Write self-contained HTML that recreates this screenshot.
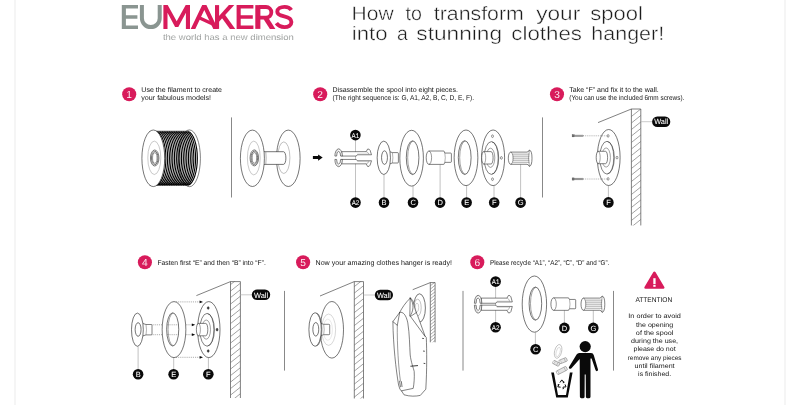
<!DOCTYPE html>
<html><head><meta charset="utf-8"><title>EUMAKERS - How to transform your spool into a stunning clothes hanger</title>
<style>
html,body{margin:0;padding:0;background:#fff;}
body{width:800px;height:405px;overflow:hidden;font-family:"Liberation Sans",sans-serif;}
svg{display:block;will-change:transform;}
text{font-family:"Liberation Sans",sans-serif;text-rendering:geometricPrecision;}
.t{}
.lb{stroke:#fff;stroke-width:0.22px;}
.lb2{stroke:#fff;stroke-width:0.05px;}
.logo{stroke-width:0.5px;}
.title{stroke:#fff;stroke-width:0.42px;}
.thin1{stroke:#fff;stroke-width:0.25px;}
.thin2{stroke:#d81b5b;stroke-width:0.08px;}
</style></head><body>
<svg width="800" height="405" viewBox="0 0 800 405">
<rect width="800" height="405" fill="#fff"/>
<line x1="15" y1="0" x2="15" y2="405" stroke="#f3f3f3" stroke-width="1.6"/>
<line x1="785" y1="0" x2="785" y2="405" stroke="#f3f3f3" stroke-width="1.6"/>
<path d="M121.8 5.1 H138.0 V8.5 H125.89999999999999 V15.3 H137.4 V18.7 H125.89999999999999 V25.5 H138.0 V28.9 H121.8 Z" fill="#8a9591"/>
<path d="M141.9 5.1 V18.2 A8.9 8.9 0 0 0 159.7 18.2 V5.1" fill="none" stroke="#8a9591" stroke-width="4.0"/>
<path d="M163.4 28.9 V5.1 H167.7 L176.7 21.3 L185.7 5.1 H190 V28.9 H185.9 V12.8 L178.3 26.9 H175.1 L167.5 12.8 V28.9 Z" fill="#d81b5b"/>
<path d="M190.7 28.9 L202.2 5.1 H206.4 L217.9 28.9 H213.3 L204.3 10 L195.3 28.9 Z" fill="#d81b5b"/>
<path d="M199.9 16.2 L213.4 22.5 L212 25.5 L198.5 19.2 Z" fill="#d81b5b"/>
<path d="M215 5.1 H219.1 V28.9 H215 Z" fill="#d81b5b"/>
<path d="M219 15.9 L228.9 5.1 H234.3 L219 21.8 Z" fill="#d81b5b"/>
<path d="M221 16.8 L224.1 13.6 L235.3 28.9 H229.9 Z" fill="#d81b5b"/>
<path d="M236.6 5.1 H253.4 V8.5 H240.7 V15.3 H252.8 V18.7 H240.7 V25.5 H253.4 V28.9 H236.6 Z" fill="#d81b5b"/>
<path d="M255.3 5.1 H260.4 V28.9 H255.3 Z" fill="#d81b5b"/>
<path d="M259 7.0 H266 A5.35 5.35 0 0 1 266 17.7 H259" fill="none" stroke="#d81b5b" stroke-width="3.8"/>
<path d="M263.6 19.2 L268.6 18.2 L275.4 28.9 H269.9 Z" fill="#d81b5b"/>
<path d="M291.3 10.0 C289.8 7.8 287.5 6.9 284.6 6.9 C280.4 6.9 277.3 8.8 277.3 11.7 C277.3 14.7 280.3 15.5 284.2 16.3 C288.4 17.2 291.4 18.5 291.4 22 C291.4 25.3 288.4 27.1 284.4 27.1 C281 27.1 278.2 25.8 276.4 23.2" fill="none" stroke="#d81b5b" stroke-width="3.9"/>
<text x="162.9" y="39.7" font-size="8.4" fill="#5f6462" text-anchor="start" class="thin1" textLength="130.9" lengthAdjust="spacingAndGlyphs">the world has a new dimension</text>
<text x="351.6" y="19.6" font-size="19.4" fill="#1c1c1c" text-anchor="start" class="title" textLength="42.0" lengthAdjust="spacingAndGlyphs">How</text>
<text x="405.6" y="19.6" font-size="19.4" fill="#1c1c1c" text-anchor="start" class="title" textLength="16.4" lengthAdjust="spacingAndGlyphs">to</text>
<text x="433.8" y="19.6" font-size="19.4" fill="#1c1c1c" text-anchor="start" class="title" textLength="90.0" lengthAdjust="spacingAndGlyphs">transform</text>
<text x="536.2" y="19.6" font-size="19.4" fill="#1c1c1c" text-anchor="start" class="title" textLength="44.0" lengthAdjust="spacingAndGlyphs">your</text>
<text x="590.2" y="19.6" font-size="19.4" fill="#1c1c1c" text-anchor="start" class="title" textLength="52.6" lengthAdjust="spacingAndGlyphs">spool</text>
<text x="351.8" y="40.3" font-size="19.4" fill="#1c1c1c" text-anchor="start" class="title" textLength="35.7" lengthAdjust="spacingAndGlyphs">into</text>
<text x="396.9" y="40.3" font-size="19.4" fill="#1c1c1c" text-anchor="start" class="title" textLength="10.8" lengthAdjust="spacingAndGlyphs">a</text>
<text x="416.3" y="40.3" font-size="19.4" fill="#1c1c1c" text-anchor="start" class="title" textLength="85.7" lengthAdjust="spacingAndGlyphs">stunning</text>
<text x="511.3" y="40.3" font-size="19.4" fill="#1c1c1c" text-anchor="start" class="title" textLength="70.7" lengthAdjust="spacingAndGlyphs">clothes</text>
<text x="591.3" y="40.3" font-size="19.4" fill="#1c1c1c" text-anchor="start" class="title" textLength="72.9" lengthAdjust="spacingAndGlyphs">hanger!</text>
<circle cx="129.2" cy="94.3" r="7.05" fill="#d81b5b"/>
<text x="129.2" y="98.05" font-size="10.2" fill="#fff" text-anchor="middle" class="thin2">1</text>
<text x="141.3" y="92" font-size="7.0" fill="#141414" text-anchor="start" class="t" textLength="80.7" lengthAdjust="spacingAndGlyphs">Use the filament to create</text>
<text x="141.3" y="100.2" font-size="7.0" fill="#141414" text-anchor="start" class="t" textLength="69.7" lengthAdjust="spacingAndGlyphs">your fabulous models!</text>
<ellipse cx="189.4" cy="158.3" rx="11.0" ry="28.4" fill="#fff" stroke="#1a1a1a" stroke-width="0.55"/>
<g fill="none" stroke="#000" stroke-width="1.12">
<path d="M149.80 131.50 A10.4 27.0 0 0 1 149.80 185.10"/>
<path d="M151.55 131.50 A10.4 27.0 0 0 1 151.55 185.10"/>
<path d="M153.29 131.50 A10.4 27.0 0 0 1 153.29 185.10"/>
<path d="M155.04 131.50 A10.4 27.0 0 0 1 155.04 185.10"/>
<path d="M156.78 131.50 A10.4 27.0 0 0 1 156.78 185.10"/>
<path d="M158.53 131.50 A10.4 27.0 0 0 1 158.53 185.10"/>
<path d="M160.27 131.50 A10.4 27.0 0 0 1 160.27 185.10"/>
<path d="M162.02 131.50 A10.4 27.0 0 0 1 162.02 185.10"/>
<path d="M163.76 131.50 A10.4 27.0 0 0 1 163.76 185.10"/>
<path d="M165.51 131.50 A10.4 27.0 0 0 1 165.51 185.10"/>
<path d="M167.25 131.50 A10.4 27.0 0 0 1 167.25 185.10"/>
<path d="M169.00 131.50 A10.4 27.0 0 0 1 169.00 185.10"/>
<path d="M170.75 131.50 A10.4 27.0 0 0 1 170.75 185.10"/>
<path d="M172.49 131.50 A10.4 27.0 0 0 1 172.49 185.10"/>
<path d="M174.24 131.50 A10.4 27.0 0 0 1 174.24 185.10"/>
<path d="M175.98 131.50 A10.4 27.0 0 0 1 175.98 185.10"/>
<path d="M177.73 131.50 A10.4 27.0 0 0 1 177.73 185.10"/>
<path d="M179.47 131.50 A10.4 27.0 0 0 1 179.47 185.10"/>
<path d="M181.22 131.50 A10.4 27.0 0 0 1 181.22 185.10"/>
<path d="M182.96 131.50 A10.4 27.0 0 0 1 182.96 185.10"/>
<path d="M184.71 131.50 A10.4 27.0 0 0 1 184.71 185.10"/>
<path d="M186.45 131.50 A10.4 27.0 0 0 1 186.45 185.10"/>
<path d="M188.20 131.50 A10.4 27.0 0 0 1 188.20 185.10"/>
</g>
<path d="M155.5 131.20000000000002 L188.6 131.20000000000002 M155.5 185.4 L188.6 185.4" stroke="#222" stroke-width="0.6" fill="none"/>
<ellipse cx="153.3" cy="158.3" rx="11.4" ry="28.3" fill="#fff" stroke="#1a1a1a" stroke-width="0.6"/>
<ellipse cx="154.3" cy="157.8" rx="6.5" ry="16.7" fill="none" stroke="#888" stroke-width="0.45"/>
<ellipse cx="154.7" cy="158.0" rx="4.25" ry="8.0" fill="none" stroke="#222" stroke-width="0.6"/>
<ellipse cx="154.75" cy="158.0" rx="3.3" ry="6.7" fill="none" stroke="#666" stroke-width="0.9"/>
<ellipse cx="154.79999999999998" cy="158.0" rx="2.25" ry="5.3" fill="none" stroke="#222" stroke-width="0.5"/>
<line x1="231.5" y1="117.4" x2="231.5" y2="197.5" stroke="#7a7a7a" stroke-width="0.9"/>
<ellipse cx="288.3" cy="158.3" rx="11.8" ry="28.2" fill="#fff" stroke="#1a1a1a" stroke-width="0.6"/>
<ellipse cx="283.8" cy="157.7" rx="6.1" ry="15.8" fill="none" stroke="#777" stroke-width="0.45"/>
<path d="M262 151.7 L283.5 151.7 A2.4 6.35 0 0 1 283.5 164.4 L262 164.4 Z" fill="#fff" stroke="#1a1a1a" stroke-width="0.6"/>
<ellipse cx="252.4" cy="158.3" rx="12" ry="28.2" fill="#fff" stroke="#1a1a1a" stroke-width="0.6"/>
<ellipse cx="253.8" cy="158" rx="6.4" ry="16.9" fill="none" stroke="#888" stroke-width="0.45"/>
<ellipse cx="254.3" cy="157.9" rx="4.25" ry="8.0" fill="none" stroke="#222" stroke-width="0.6"/>
<ellipse cx="254.35000000000002" cy="157.9" rx="3.3" ry="6.7" fill="none" stroke="#666" stroke-width="0.9"/>
<ellipse cx="254.4" cy="157.9" rx="2.25" ry="5.3" fill="none" stroke="#222" stroke-width="0.5"/>
<path d="M265.8 152.0 Q266.5 158 265.8 164.1" fill="none" stroke="#555" stroke-width="0.45"/>
<path d="M312.9 156.0 L318.1 156.0 L318.1 154.4 L322.7 157.5 L318.1 160.7 L318.1 159.0 L312.9 159.0 Z" fill="#0a0a0a"/>
<circle cx="320.2" cy="94.3" r="7.05" fill="#d81b5b"/>
<text x="320.2" y="98.05" font-size="10.2" fill="#fff" text-anchor="middle" class="thin2">2</text>
<text x="332.5" y="92" font-size="7.0" fill="#141414" text-anchor="start" class="t" textLength="125.5" lengthAdjust="spacingAndGlyphs">Disassemble the spool into eight pieces.</text>
<text x="332.5" y="100.2" font-size="7.0" fill="#141414" text-anchor="start" class="t" textLength="141.6" lengthAdjust="spacingAndGlyphs">(The right sequence is: G, A1, A2, B, C, D, E, F).</text>
<line x1="355.5" y1="139.5" x2="355.5" y2="198" stroke="#999" stroke-width="0.6"/>
<line x1="384.0" y1="174.5" x2="384.0" y2="198" stroke="#a8a8a8" stroke-width="0.7"/>
<line x1="413.0" y1="186" x2="413.0" y2="198" stroke="#a8a8a8" stroke-width="0.7"/>
<line x1="440.1" y1="164.6" x2="440.1" y2="198" stroke="#a8a8a8" stroke-width="0.7"/>
<line x1="466.6" y1="185.8" x2="466.6" y2="198" stroke="#a8a8a8" stroke-width="0.7"/>
<line x1="494.0" y1="185.8" x2="494.0" y2="198" stroke="#a8a8a8" stroke-width="0.7"/>
<line x1="520.6" y1="164.4" x2="520.6" y2="198" stroke="#a8a8a8" stroke-width="0.7"/>
<path d="M341.7 151.65 L366.2 151.65 L367.59999999999997 149.05 Q369.29999999999995 148.65 370.09999999999997 150.35 L371.49999999999994 154.75 L357.29999999999995 154.75 L356.29999999999995 156.05 L341.7 156.05 Z" fill="#fff" stroke="#1a1a1a" stroke-width="0.55" stroke-linejoin="round"/>
<path d="M366.2 151.65 Q368.4 152.15 368.99999999999994 154.45" fill="none" stroke="#666" stroke-width="0.45"/>
<path d="M357.29999999999995 153.95 L369.4 153.95" fill="none" stroke="#999" stroke-width="0.4"/>
<path d="M334.9 156.05 A3.7 7.2 0 0 1 342.29999999999995 156.05 L340.59999999999997 156.05 A2.0 4.6 0 0 0 336.59999999999997 156.05 Z" fill="#fff" stroke="#1a1a1a" stroke-width="0.55" stroke-linejoin="round"/>
<path d="M335.9 155.65 A3.0 5.8999999999999995 0 0 1 338.9 149.75" fill="none" stroke="#aaa" stroke-width="0.4"/>
<path d="M341.7 163.85 L366.2 163.85 L367.59999999999997 166.45 Q369.29999999999995 166.85 370.09999999999997 165.15 L371.49999999999994 160.75 L357.29999999999995 160.75 L356.29999999999995 159.45 L341.7 159.45 Z" fill="#fff" stroke="#1a1a1a" stroke-width="0.55" stroke-linejoin="round"/>
<path d="M366.2 163.85 Q368.4 163.35 368.99999999999994 161.05" fill="none" stroke="#666" stroke-width="0.45"/>
<path d="M357.29999999999995 161.55 L369.4 161.55" fill="none" stroke="#999" stroke-width="0.4"/>
<path d="M334.9 159.45 A3.7 7.2 0 0 0 342.29999999999995 159.45 L340.59999999999997 159.45 A2.0 4.6 0 0 1 336.59999999999997 159.45 Z" fill="#fff" stroke="#1a1a1a" stroke-width="0.55" stroke-linejoin="round"/>
<path d="M335.9 159.85 A3.0 5.8999999999999995 0 0 0 338.9 165.75" fill="none" stroke="#aaa" stroke-width="0.4"/>
<path d="M386.8 150.8 Q391.2 152.20000000000002 392.40000000000003 152.60000000000002 L397.6 152.60000000000002 Q398.40000000000003 152.60000000000002 398.40000000000003 153.60000000000002 L398.40000000000003 162.0 Q398.40000000000003 163.0 397.6 163.0 L392.40000000000003 163.0 Q391.2 163.4 386.8 164.8 Z" fill="#fff" stroke="#1a1a1a" stroke-width="0.55"/>
<path d="M392.40000000000003 152.60000000000002 Q393.40000000000003 157.8 392.40000000000003 163.0" fill="none" stroke="#555" stroke-width="0.45"/>
<ellipse cx="383.8" cy="157.8" rx="6.65" ry="16.7" fill="#fff" stroke="#1a1a1a" stroke-width="0.6"/>
<ellipse cx="384.5" cy="157.60000000000002" rx="2.95" ry="6.8" fill="none" stroke="#1a1a1a" stroke-width="0.6"/>
<ellipse cx="411.6" cy="158.2" rx="11.8" ry="27.9" fill="#fff" stroke="#1a1a1a" stroke-width="0.6"/>
<ellipse cx="412.6" cy="157.7" rx="6.3" ry="16.9" fill="none" stroke="#1a1a1a" stroke-width="0.6"/>
<path d="M413.20000000000005 141.1 A5.3999999999999995 16.299999999999997 0 0 0 413.20000000000005 174.29999999999998" fill="none" stroke="#444" stroke-width="0.5"/>
<path d="M428.9 151.0 L443.4 151.0 Q444.4 151.0 444.4 152.0 L444.79999999999995 153.04999999999998 L450.59999999999997 153.04999999999998 Q451.4 153.04999999999998 451.4 153.85 L451.4 161.54999999999998 Q451.4 162.35 450.59999999999997 162.35 L444.79999999999995 162.35 L444.4 163.39999999999998 Q444.4 164.39999999999998 443.4 164.39999999999998 L428.9 164.39999999999998 A2.7 6.7 0 0 1 428.9 151.0 Z" fill="#fff" stroke="#1a1a1a" stroke-width="0.55"/>
<path d="M428.9 151.0 A2.7 6.7 0 0 1 428.9 164.39999999999998" fill="none" stroke="#333" stroke-width="0.5"/>
<path d="M444.79999999999995 153.04999999999998 Q445.79999999999995 157.7 444.79999999999995 162.35" fill="none" stroke="#555" stroke-width="0.45"/>
<ellipse cx="466.0" cy="157.8" rx="11.85" ry="27.8" fill="#fff" stroke="#1a1a1a" stroke-width="0.6"/>
<ellipse cx="464.7" cy="157.60000000000002" rx="6.4" ry="16.9" fill="none" stroke="#1a1a1a" stroke-width="0.6"/>
<path d="M465.3 141.00000000000003 A5.5 16.299999999999997 0 0 0 465.3 174.20000000000002" fill="none" stroke="#444" stroke-width="0.5"/>
<ellipse cx="493.1" cy="157.8" rx="11.5" ry="27.8" fill="#fff" stroke="#1a1a1a" stroke-width="0.6"/>
<ellipse cx="491.40000000000003" cy="158.0" rx="7.3" ry="16.4" fill="none" stroke="#1a1a1a" stroke-width="0.55"/>
<path d="M491.90000000000003 141.9 A6.2 16.0 0 0 1 491.90000000000003 174.1" fill="none" stroke="#333" stroke-width="0.5"/>
<ellipse cx="490.5" cy="157.8" rx="4.3" ry="9.6" fill="none" stroke="#444" stroke-width="0.5"/>
<ellipse cx="492.5" cy="136.20000000000002" rx="0.95" ry="1.35" fill="none" stroke="#1a1a1a" stroke-width="0.45"/>
<ellipse cx="501.40000000000003" cy="157.9" rx="0.95" ry="1.35" fill="none" stroke="#1a1a1a" stroke-width="0.45"/>
<ellipse cx="492.5" cy="179.20000000000002" rx="0.95" ry="1.35" fill="none" stroke="#1a1a1a" stroke-width="0.45"/>
<path d="M491.1 151.60000000000002 L483.70000000000005 151.60000000000002 A2 6.2 0 0 0 483.70000000000005 164.0 L491.1 164.0 A2.0 6.2 0 0 0 491.1 151.60000000000002 Z" fill="#fff" stroke="#1a1a1a" stroke-width="0.55"/>
<path d="M483.70000000000005 151.60000000000002 A2 6.2 0 0 1 483.70000000000005 164.0" fill="none" stroke="#333" stroke-width="0.45"/>
<path d="M510.7 152.1 L527.0 152.1 Q528.6 151.9 529.4 150.0 Q532.0 150.7 532.0 158.2 Q532.0 165.7 529.4 166.39999999999998 Q528.6 164.49999999999997 527.0 164.29999999999998 L510.7 164.29999999999998 A2.4 6.1 0 0 1 510.7 152.1 Z" fill="#fff" stroke="#1a1a1a" stroke-width="0.55"/>
<path d="M510.7 152.1 A2.4 6.1 0 0 1 510.7 164.29999999999998" fill="none" stroke="#333" stroke-width="0.5"/>
<line x1="512.9" y1="154.13" x2="529.4" y2="154.13" stroke="#444" stroke-width="0.45"/>
<line x1="512.9" y1="156.17" x2="529.4" y2="156.17" stroke="#444" stroke-width="0.45"/>
<line x1="512.9" y1="158.20" x2="529.4" y2="158.20" stroke="#444" stroke-width="0.45"/>
<line x1="512.9" y1="160.23" x2="529.4" y2="160.23" stroke="#444" stroke-width="0.45"/>
<line x1="512.9" y1="162.27" x2="529.4" y2="162.27" stroke="#444" stroke-width="0.45"/>
<path d="M529.4 150.0 Q527.6 158.2 529.4 166.39999999999998" fill="none" stroke="#444" stroke-width="0.45"/>
<circle cx="355.4" cy="135.1" r="5.3" fill="#0a0a0a"/>
<text x="355.4" y="137.5" font-size="6.8" fill="#fff" text-anchor="middle" class="lb2" textLength="7.7" lengthAdjust="spacingAndGlyphs">A1</text>
<circle cx="355.5" cy="202.6" r="5.3" fill="#0a0a0a"/>
<text x="355.5" y="205.0" font-size="6.8" fill="#fff" text-anchor="middle" class="lb2" textLength="7.7" lengthAdjust="spacingAndGlyphs">A2</text>
<circle cx="384.0" cy="202.6" r="5.3" fill="#0a0a0a"/>
<text x="384.1" y="205.25" font-size="7.5" fill="#fff" text-anchor="middle" class="lb2">B</text>
<circle cx="413.0" cy="202.6" r="5.3" fill="#0a0a0a"/>
<text x="413.1" y="205.25" font-size="7.5" fill="#fff" text-anchor="middle" class="lb2">C</text>
<circle cx="440.1" cy="202.6" r="5.3" fill="#0a0a0a"/>
<text x="440.20000000000005" y="205.25" font-size="7.5" fill="#fff" text-anchor="middle" class="lb2">D</text>
<circle cx="466.6" cy="202.6" r="5.3" fill="#0a0a0a"/>
<text x="466.70000000000005" y="205.25" font-size="7.5" fill="#fff" text-anchor="middle" class="lb2">E</text>
<circle cx="494.2" cy="202.6" r="5.3" fill="#0a0a0a"/>
<text x="494.3" y="205.25" font-size="7.5" fill="#fff" text-anchor="middle" class="lb2">F</text>
<circle cx="520.6" cy="202.6" r="5.3" fill="#0a0a0a"/>
<text x="520.7" y="205.25" font-size="7.5" fill="#fff" text-anchor="middle" class="lb2">G</text>
<line x1="542.5" y1="117.4" x2="542.5" y2="197.5" stroke="#7a7a7a" stroke-width="0.9"/>
<circle cx="557.0" cy="94.3" r="7.05" fill="#d81b5b"/>
<text x="557.0" y="98.05" font-size="10.2" fill="#fff" text-anchor="middle" class="thin2">3</text>
<text x="569.3" y="92" font-size="7.0" fill="#141414" text-anchor="start" class="t" textLength="89.5" lengthAdjust="spacingAndGlyphs">Take “F” and fix it to the wall.</text>
<text x="569.3" y="100.2" font-size="7.0" fill="#141414" text-anchor="start" class="t" textLength="115" lengthAdjust="spacingAndGlyphs">(You can use the included 6mm screws).</text>
<clipPath id="wc1"><rect x="631.4" y="109.0" width="9.399999999999977" height="116.4"/></clipPath>
<g clip-path="url(#wc1)" stroke="#555" stroke-width="0.55">
<line x1="631.4" y1="116.50" x2="640.8" y2="108.98"/>
<line x1="631.4" y1="123.00" x2="640.8" y2="115.48"/>
<line x1="631.4" y1="129.50" x2="640.8" y2="121.98"/>
<line x1="631.4" y1="136.00" x2="640.8" y2="128.48"/>
<line x1="631.4" y1="142.50" x2="640.8" y2="134.98"/>
<line x1="631.4" y1="149.00" x2="640.8" y2="141.48"/>
<line x1="631.4" y1="155.50" x2="640.8" y2="147.98"/>
<line x1="631.4" y1="162.00" x2="640.8" y2="154.48"/>
<line x1="631.4" y1="168.50" x2="640.8" y2="160.98"/>
<line x1="631.4" y1="175.00" x2="640.8" y2="167.48"/>
<line x1="631.4" y1="181.50" x2="640.8" y2="173.98"/>
<line x1="631.4" y1="188.00" x2="640.8" y2="180.48"/>
<line x1="631.4" y1="194.50" x2="640.8" y2="186.98"/>
<line x1="631.4" y1="201.00" x2="640.8" y2="193.48"/>
<line x1="631.4" y1="207.50" x2="640.8" y2="199.98"/>
<line x1="631.4" y1="214.00" x2="640.8" y2="206.48"/>
<line x1="631.4" y1="220.50" x2="640.8" y2="212.98"/>
<line x1="631.4" y1="227.00" x2="640.8" y2="219.48"/>
<line x1="631.4" y1="233.50" x2="640.8" y2="225.98"/>
</g>
<path d="M598 122.6 L631.4 109.0 L640.8 109.0 L640.8 225.4 M631.4 225.4 L631.4 109.0" fill="none" stroke="#333" stroke-width="0.62"/>
<line x1="640.8" y1="121.7" x2="653.1" y2="121.7" stroke="#b5b5b5" stroke-width="0.7"/>
<rect x="652.1" y="116.45" width="18.199999999999932" height="10.5" rx="5.25" fill="#0a0a0a"/>
<text x="661.2" y="124.4" font-size="7.5" fill="#fff" text-anchor="middle" class="lb2" textLength="13.999999999999932" lengthAdjust="spacingAndGlyphs">Wall</text>
<line x1="608.4" y1="185.4" x2="608.4" y2="198" stroke="#a8a8a8" stroke-width="0.7"/>
<ellipse cx="608.7" cy="157.5" rx="11.4" ry="28" fill="#fff" stroke="#1a1a1a" stroke-width="0.6"/>
<ellipse cx="607.0" cy="157.7" rx="7.3" ry="16.4" fill="none" stroke="#1a1a1a" stroke-width="0.55"/>
<path d="M607.5 141.6 A6.2 16.0 0 0 1 607.5 173.79999999999998" fill="none" stroke="#333" stroke-width="0.5"/>
<ellipse cx="606.1" cy="157.5" rx="4.3" ry="9.6" fill="none" stroke="#444" stroke-width="0.5"/>
<ellipse cx="608.1" cy="135.9" rx="0.95" ry="1.35" fill="none" stroke="#1a1a1a" stroke-width="0.45"/>
<ellipse cx="617.0" cy="157.6" rx="0.95" ry="1.35" fill="none" stroke="#1a1a1a" stroke-width="0.45"/>
<ellipse cx="608.1" cy="178.9" rx="0.95" ry="1.35" fill="none" stroke="#1a1a1a" stroke-width="0.45"/>
<path d="M605.6 151.3 L598.2 151.3 A2 6.2 0 0 0 598.2 163.7 L605.6 163.7 A2.0 6.2 0 0 0 605.6 151.3 Z" fill="#fff" stroke="#1a1a1a" stroke-width="0.55"/>
<path d="M598.2 151.3 A2 6.2 0 0 1 598.2 163.7" fill="none" stroke="#333" stroke-width="0.45"/>
<circle cx="608.4" cy="202.4" r="5.3" fill="#0a0a0a"/>
<text x="608.5" y="205.05" font-size="7.5" fill="#fff" text-anchor="middle" class="lb2">F</text>
<rect x="572.1" y="134.70000000000002" width="2.0" height="2.2" fill="#777" stroke="#333" stroke-width="0.3"/>
<path d="M574.1 135.15 L582.7 135.15 L583.9 135.8 L582.7 136.45000000000002 L574.1 136.45000000000002 Z" fill="#999" stroke="#444" stroke-width="0.3"/>
<line x1="584.9" y1="135.8" x2="606.5" y2="135.8" stroke="#555" stroke-width="0.5" stroke-dasharray="0.9 1.0"/>
<rect x="572.1" y="177.9" width="2.0" height="2.2" fill="#777" stroke="#333" stroke-width="0.3"/>
<path d="M574.1 178.35 L582.7 178.35 L583.9 179.0 L582.7 179.65 L574.1 179.65 Z" fill="#999" stroke="#444" stroke-width="0.3"/>
<line x1="584.9" y1="179.0" x2="606.5" y2="179.0" stroke="#555" stroke-width="0.5" stroke-dasharray="0.9 1.0"/>
<circle cx="144.9" cy="262.3" r="7.05" fill="#d81b5b"/>
<text x="144.9" y="266.05" font-size="10.2" fill="#fff" text-anchor="middle" class="thin2">4</text>
<text x="157.5" y="265" font-size="7.0" fill="#141414" text-anchor="start" class="t" textLength="108.3" lengthAdjust="spacingAndGlyphs">Fasten first “E” and then “B” into “F”.</text>
<clipPath id="wc2"><rect x="230.5" y="281.6" width="9.900000000000006" height="116.39999999999998"/></clipPath>
<g clip-path="url(#wc2)" stroke="#555" stroke-width="0.55">
<line x1="230.5" y1="284.60" x2="240.4" y2="276.68"/>
<line x1="230.5" y1="291.10" x2="240.4" y2="283.18"/>
<line x1="230.5" y1="297.60" x2="240.4" y2="289.68"/>
<line x1="230.5" y1="304.10" x2="240.4" y2="296.18"/>
<line x1="230.5" y1="310.60" x2="240.4" y2="302.68"/>
<line x1="230.5" y1="317.10" x2="240.4" y2="309.18"/>
<line x1="230.5" y1="323.60" x2="240.4" y2="315.68"/>
<line x1="230.5" y1="330.10" x2="240.4" y2="322.18"/>
<line x1="230.5" y1="336.60" x2="240.4" y2="328.68"/>
<line x1="230.5" y1="343.10" x2="240.4" y2="335.18"/>
<line x1="230.5" y1="349.60" x2="240.4" y2="341.68"/>
<line x1="230.5" y1="356.10" x2="240.4" y2="348.18"/>
<line x1="230.5" y1="362.60" x2="240.4" y2="354.68"/>
<line x1="230.5" y1="369.10" x2="240.4" y2="361.18"/>
<line x1="230.5" y1="375.60" x2="240.4" y2="367.68"/>
<line x1="230.5" y1="382.10" x2="240.4" y2="374.18"/>
<line x1="230.5" y1="388.60" x2="240.4" y2="380.68"/>
<line x1="230.5" y1="395.10" x2="240.4" y2="387.18"/>
<line x1="230.5" y1="401.60" x2="240.4" y2="393.68"/>
<line x1="230.5" y1="408.10" x2="240.4" y2="400.18"/>
</g>
<path d="M196.4 295.6 L230.5 281.6 L240.4 281.6 L240.4 398 M230.5 398 L230.5 281.6" fill="none" stroke="#333" stroke-width="0.62"/>
<line x1="240.4" y1="294.8" x2="252.8" y2="294.8" stroke="#b5b5b5" stroke-width="0.7"/>
<rect x="251.8" y="289.55" width="18.399999999999977" height="10.5" rx="5.25" fill="#0a0a0a"/>
<text x="261.0" y="297.5" font-size="7.5" fill="#fff" text-anchor="middle" class="lb2" textLength="14.199999999999978" lengthAdjust="spacingAndGlyphs">Wall</text>
<line x1="138.1" y1="346.3" x2="138.1" y2="370" stroke="#a8a8a8" stroke-width="0.7"/>
<line x1="173.7" y1="357.6" x2="173.7" y2="370" stroke="#a8a8a8" stroke-width="0.7"/>
<line x1="208.4" y1="357.6" x2="208.4" y2="370" stroke="#a8a8a8" stroke-width="0.7"/>
<ellipse cx="208.8" cy="329.6" rx="11.2" ry="28" fill="#fff" stroke="#1a1a1a" stroke-width="0.6"/>
<ellipse cx="207.10000000000002" cy="329.8" rx="7.3" ry="16.4" fill="none" stroke="#1a1a1a" stroke-width="0.55"/>
<path d="M207.60000000000002 313.7 A6.2 16.0 0 0 1 207.60000000000002 345.90000000000003" fill="none" stroke="#333" stroke-width="0.5"/>
<ellipse cx="206.20000000000002" cy="329.6" rx="4.3" ry="9.6" fill="none" stroke="#444" stroke-width="0.5"/>
<ellipse cx="208.20000000000002" cy="308.0" rx="0.95" ry="1.35" fill="#444" stroke="#1a1a1a" stroke-width="0.45"/>
<ellipse cx="217.10000000000002" cy="329.70000000000005" rx="0.95" ry="1.35" fill="#444" stroke="#1a1a1a" stroke-width="0.45"/>
<ellipse cx="208.20000000000002" cy="351.0" rx="0.95" ry="1.35" fill="#444" stroke="#1a1a1a" stroke-width="0.45"/>
<path d="M205.8 323.40000000000003 L198.4 323.40000000000003 A2 6.2 0 0 0 198.4 335.8 L205.8 335.8 A2.0 6.2 0 0 0 205.8 323.40000000000003 Z" fill="#fff" stroke="#1a1a1a" stroke-width="0.55"/>
<path d="M198.4 323.40000000000003 A2 6.2 0 0 1 198.4 335.8" fill="none" stroke="#333" stroke-width="0.45"/>
<line x1="176" y1="301.9" x2="200" y2="301.9" stroke="#444" stroke-width="0.5" stroke-dasharray="0.9 1.0"/>
<path d="M199.6 300.54999999999995 L203 301.9 L199.6 303.25 Z" fill="#0a0a0a"/>
<line x1="176" y1="357.3" x2="200" y2="357.3" stroke="#444" stroke-width="0.5" stroke-dasharray="0.9 1.0"/>
<path d="M199.6 355.95 L203 357.3 L199.6 358.65000000000003 Z" fill="#0a0a0a"/>
<line x1="151.5" y1="324.8" x2="192.2" y2="324.8" stroke="#444" stroke-width="0.5" stroke-dasharray="0.9 1.0"/>
<path d="M191.79999999999998 323.45 L195.2 324.8 L191.79999999999998 326.15000000000003 Z" fill="#0a0a0a"/>
<line x1="151.5" y1="334.7" x2="192.2" y2="334.7" stroke="#444" stroke-width="0.5" stroke-dasharray="0.9 1.0"/>
<path d="M191.79999999999998 333.34999999999997 L195.2 334.7 L191.79999999999998 336.05 Z" fill="#0a0a0a"/>
<path d="M162.15 329.6 A11.85 28 0 1 0 185.85 329.6 A11.85 28 0 1 0 162.15 329.6 Z M166.64999999999998 329.40000000000003 A6.05 16.6 0 1 0 178.75 329.40000000000003 A6.05 16.6 0 1 0 166.64999999999998 329.40000000000003 Z" fill="#fff" fill-rule="evenodd" stroke="#1a1a1a" stroke-width="0.6"/>
<path d="M173.3 313.1 A5.1499999999999995 16.0 0 0 0 173.3 345.70000000000005" fill="none" stroke="#444" stroke-width="0.5"/>
<path d="M140.4 322.7 Q144.8 324.09999999999997 146.0 324.5 L151.20000000000002 324.5 Q152.0 324.5 152.0 325.5 L152.0 333.9 Q152.0 334.9 151.20000000000002 334.9 L146.0 334.9 Q144.8 335.3 140.4 336.7 Z" fill="#fff" stroke="#1a1a1a" stroke-width="0.55"/>
<path d="M146.0 324.5 Q147.0 329.7 146.0 334.9" fill="none" stroke="#555" stroke-width="0.45"/>
<ellipse cx="137.4" cy="329.7" rx="5.9" ry="16.6" fill="#fff" stroke="#1a1a1a" stroke-width="0.6"/>
<ellipse cx="138.1" cy="329.5" rx="2.95" ry="6.8" fill="none" stroke="#1a1a1a" stroke-width="0.6"/>
<circle cx="138.1" cy="374.3" r="5.3" fill="#0a0a0a"/>
<text x="138.2" y="376.95" font-size="7.5" fill="#fff" text-anchor="middle" class="lb2">B</text>
<circle cx="173.6" cy="374.3" r="5.3" fill="#0a0a0a"/>
<text x="173.7" y="376.95" font-size="7.5" fill="#fff" text-anchor="middle" class="lb2">E</text>
<circle cx="208.3" cy="374.3" r="5.3" fill="#0a0a0a"/>
<text x="208.4" y="376.95" font-size="7.5" fill="#fff" text-anchor="middle" class="lb2">F</text>
<line x1="284.5" y1="290.9" x2="284.5" y2="370.6" stroke="#7a7a7a" stroke-width="0.9"/>
<circle cx="303.1" cy="262.3" r="7.05" fill="#d81b5b"/>
<text x="303.1" y="266.05" font-size="10.2" fill="#fff" text-anchor="middle" class="thin2">5</text>
<text x="315.5" y="265" font-size="7.0" fill="#141414" text-anchor="start" class="t" textLength="136.5" lengthAdjust="spacingAndGlyphs">Now your amazing clothes hanger is ready!</text>
<clipPath id="wc3"><rect x="354.3" y="281.6" width="9.199999999999989" height="116.89999999999998"/></clipPath>
<g clip-path="url(#wc3)" stroke="#555" stroke-width="0.55">
<line x1="354.3" y1="286.60" x2="363.5" y2="279.24"/>
<line x1="354.3" y1="293.10" x2="363.5" y2="285.74"/>
<line x1="354.3" y1="299.60" x2="363.5" y2="292.24"/>
<line x1="354.3" y1="306.10" x2="363.5" y2="298.74"/>
<line x1="354.3" y1="312.60" x2="363.5" y2="305.24"/>
<line x1="354.3" y1="319.10" x2="363.5" y2="311.74"/>
<line x1="354.3" y1="325.60" x2="363.5" y2="318.24"/>
<line x1="354.3" y1="332.10" x2="363.5" y2="324.74"/>
<line x1="354.3" y1="338.60" x2="363.5" y2="331.24"/>
<line x1="354.3" y1="345.10" x2="363.5" y2="337.74"/>
<line x1="354.3" y1="351.60" x2="363.5" y2="344.24"/>
<line x1="354.3" y1="358.10" x2="363.5" y2="350.74"/>
<line x1="354.3" y1="364.60" x2="363.5" y2="357.24"/>
<line x1="354.3" y1="371.10" x2="363.5" y2="363.74"/>
<line x1="354.3" y1="377.60" x2="363.5" y2="370.24"/>
<line x1="354.3" y1="384.10" x2="363.5" y2="376.74"/>
<line x1="354.3" y1="390.60" x2="363.5" y2="383.24"/>
<line x1="354.3" y1="397.10" x2="363.5" y2="389.74"/>
<line x1="354.3" y1="403.60" x2="363.5" y2="396.24"/>
<line x1="354.3" y1="410.10" x2="363.5" y2="402.74"/>
</g>
<path d="M320 296 L354.3 281.6 L363.5 281.6 L363.5 398.5 M354.3 398.5 L354.3 281.6" fill="none" stroke="#333" stroke-width="0.62"/>
<line x1="363.5" y1="295.0" x2="375.8" y2="295.0" stroke="#b5b5b5" stroke-width="0.7"/>
<rect x="374.8" y="289.75" width="18.19999999999999" height="10.5" rx="5.25" fill="#0a0a0a"/>
<text x="383.9" y="297.7" font-size="7.5" fill="#fff" text-anchor="middle" class="lb2" textLength="13.99999999999999" lengthAdjust="spacingAndGlyphs">Wall</text>
<ellipse cx="331.9" cy="329.8" rx="11.6" ry="28.3" fill="#fff" stroke="#1a1a1a" stroke-width="0.6"/>
<ellipse cx="328.6" cy="329.7" rx="7.0" ry="15.7" fill="none" stroke="#b0b0b0" stroke-width="0.5"/>
<ellipse cx="327.8" cy="329.7" rx="4.6" ry="10.6" fill="none" stroke="#d0d0d0" stroke-width="0.45"/>
<path d="M318.1 322.5 Q322.5 323.9 323.70000000000005 324.3 L328.90000000000003 324.3 Q329.70000000000005 324.3 329.70000000000005 325.3 L329.70000000000005 333.7 Q329.70000000000005 334.7 328.90000000000003 334.7 L323.70000000000005 334.7 Q322.5 335.1 318.1 336.5 Z" fill="#fff" stroke="#1a1a1a" stroke-width="0.55"/>
<path d="M323.70000000000005 324.3 Q324.70000000000005 329.5 323.70000000000005 334.7" fill="none" stroke="#555" stroke-width="0.45"/>
<ellipse cx="315.1" cy="329.5" rx="6.2" ry="16.8" fill="#fff" stroke="#1a1a1a" stroke-width="0.6"/>
<ellipse cx="315.8" cy="329.3" rx="2.95" ry="6.8" fill="none" stroke="#1a1a1a" stroke-width="0.6"/>
<path d="M316.6 312.9 A6.0 16.7 0 0 1 316.6 346.1" fill="none" stroke="#333" stroke-width="0.5"/>
<clipPath id="wc4"><rect x="430.3" y="282.6" width="4.800000000000011" height="59.69999999999999"/></clipPath>
<g clip-path="url(#wc4)" stroke="#666" stroke-width="0.55">
<line x1="430.3" y1="282.60" x2="435.1" y2="278.76"/>
<line x1="430.3" y1="285.85" x2="435.1" y2="282.01"/>
<line x1="430.3" y1="289.10" x2="435.1" y2="285.26"/>
<line x1="430.3" y1="292.35" x2="435.1" y2="288.51"/>
<line x1="430.3" y1="295.60" x2="435.1" y2="291.76"/>
<line x1="430.3" y1="298.85" x2="435.1" y2="295.01"/>
<line x1="430.3" y1="302.10" x2="435.1" y2="298.26"/>
<line x1="430.3" y1="305.35" x2="435.1" y2="301.51"/>
<line x1="430.3" y1="308.60" x2="435.1" y2="304.76"/>
<line x1="430.3" y1="311.85" x2="435.1" y2="308.01"/>
<line x1="430.3" y1="315.10" x2="435.1" y2="311.26"/>
<line x1="430.3" y1="318.35" x2="435.1" y2="314.51"/>
<line x1="430.3" y1="321.60" x2="435.1" y2="317.76"/>
<line x1="430.3" y1="324.85" x2="435.1" y2="321.01"/>
<line x1="430.3" y1="328.10" x2="435.1" y2="324.26"/>
<line x1="430.3" y1="331.35" x2="435.1" y2="327.51"/>
<line x1="430.3" y1="334.60" x2="435.1" y2="330.76"/>
<line x1="430.3" y1="337.85" x2="435.1" y2="334.01"/>
<line x1="430.3" y1="341.10" x2="435.1" y2="337.26"/>
<line x1="430.3" y1="344.35" x2="435.1" y2="340.51"/>
<line x1="430.3" y1="347.60" x2="435.1" y2="343.76"/>
<line x1="430.3" y1="350.85" x2="435.1" y2="347.01"/>
</g>
<path d="M412.7 289.7 L430.3 282.6 L435.1 282.6 L435.1 342.3 M430.3 342.3 L430.3 282.6" fill="none" stroke="#333" stroke-width="0.62"/>
<ellipse cx="419.5" cy="308" rx="5.9" ry="14.2" fill="#fff" stroke="#1a1a1a" stroke-width="0.6"/>
<ellipse cx="417.6" cy="307.6" rx="3.6" ry="8.4" fill="none" stroke="#777" stroke-width="0.45"/>
<ellipse cx="417.0" cy="307.4" rx="1.7" ry="4.3" fill="none" stroke="#999" stroke-width="0.45"/>
<g fill="#fff" stroke="#1a1a1a" stroke-width="0.55" stroke-linejoin="round" stroke-linecap="round">
<path d="M410.2 298.2 C405.5 302.5 402 308 399.7 312.4 L392.9 321.6 C393.2 345 396 370 398.6 385 L400 389.5 L401.5 390.8 L404 394.8 C410 396.6 416 396.4 420.3 395.4 L425.8 389.2 C427 370 426.8 350 426.3 337.6 L425 336 L417.6 315.5 C415.6 312 414.2 306 413.3 302 C412.7 300 411.6 298.6 410.2 298.2 Z"/>
<path d="M410.2 298.2 L409.8 316.2 C413.2 312 414.8 304 410.2 298.2 Z"/>
<path d="M410.6 316.6 L425 336.3" fill="none"/>
<path d="M410.6 316.4 L416.6 312.4" fill="none"/>
<path d="M399.7 312.4 L397.3 325.3 L392.9 321.6" fill="none"/>
<path d="M397.3 325.3 C397 345 398.6 368 400.4 381" fill="none" stroke-width="0.45"/>
<path d="M399.7 312.4 C403 311.2 406.2 315 407.8 322.9 C409.6 334 409.6 346 410.2 355 C411 362 413.4 368 414.2 371.5 C414.6 378 414 384 413.2 388.4 L401.5 390.8" fill="none"/>
<path d="M410.8 366.2 L417.6 365.6" fill="none" stroke-width="0.85"/>
<path d="M399.6 381.2 L400.4 386.8 M401.4 381.6 L402 386.6" fill="none" stroke-width="0.6"/>
<path d="M422.6 338.4 l0.9 0.1 M423.5 351.1 l0.9 0.1 M424 363.4 l0.9 0.1" fill="none" stroke-width="0.8"/>
</g>
<circle cx="477.3" cy="262.3" r="7.05" fill="#d81b5b"/>
<text x="477.3" y="266.05" font-size="10.2" fill="#fff" text-anchor="middle" class="thin2">6</text>
<text x="490" y="265" font-size="7.0" fill="#141414" text-anchor="start" class="t" textLength="119.3" lengthAdjust="spacingAndGlyphs">Please recycle “A1”, “A2”, “C”, “D” and “G”.</text>
<line x1="463.0" y1="290.9" x2="463.0" y2="370.6" stroke="#7a7a7a" stroke-width="0.9"/>
<line x1="495.6" y1="286" x2="495.6" y2="323" stroke="#999" stroke-width="0.6"/>
<path d="M481.2 298.1 L507.0 298.1 L508.4 295.5 Q510.09999999999997 295.1 510.9 296.8 L512.3 301.95 L496.79999999999995 301.95 L495.79999999999995 303.25 L481.2 303.25 Z" fill="#fff" stroke="#1a1a1a" stroke-width="0.55" stroke-linejoin="round"/>
<path d="M507.0 298.1 Q509.2 298.6 509.79999999999995 301.65" fill="none" stroke="#666" stroke-width="0.45"/>
<path d="M496.79999999999995 301.15 L510.2 301.15" fill="none" stroke="#999" stroke-width="0.4"/>
<path d="M474.4 303.25 A3.7 7.95 0 0 1 481.79999999999995 303.25 L480.09999999999997 303.25 A2.0 5.35 0 0 0 476.09999999999997 303.25 Z" fill="#fff" stroke="#1a1a1a" stroke-width="0.55" stroke-linejoin="round"/>
<path d="M475.4 302.85 A3.0 6.6499999999999995 0 0 1 478.4 296.2" fill="none" stroke="#aaa" stroke-width="0.4"/>
<path d="M481.2 310.3 L507.0 310.3 L508.4 312.9 Q510.09999999999997 313.3 510.9 311.6 L512.3 306.45 L496.79999999999995 306.45 L495.79999999999995 305.15 L481.2 305.15 Z" fill="#fff" stroke="#1a1a1a" stroke-width="0.55" stroke-linejoin="round"/>
<path d="M507.0 310.3 Q509.2 309.8 509.79999999999995 306.75" fill="none" stroke="#666" stroke-width="0.45"/>
<path d="M496.79999999999995 307.25 L510.2 307.25" fill="none" stroke="#999" stroke-width="0.4"/>
<path d="M474.4 305.15 A3.7 7.95 0 0 0 481.79999999999995 305.15 L480.09999999999997 305.15 A2.0 5.35 0 0 1 476.09999999999997 305.15 Z" fill="#fff" stroke="#1a1a1a" stroke-width="0.55" stroke-linejoin="round"/>
<path d="M475.4 305.55 A3.0 6.6499999999999995 0 0 0 478.4 312.2" fill="none" stroke="#aaa" stroke-width="0.4"/>
<circle cx="495.6" cy="281.6" r="5.3" fill="#0a0a0a"/>
<text x="495.6" y="284.0" font-size="6.8" fill="#fff" text-anchor="middle" class="lb2" textLength="7.7" lengthAdjust="spacingAndGlyphs">A1</text>
<circle cx="495.6" cy="327.3" r="5.3" fill="#0a0a0a"/>
<text x="495.6" y="329.7" font-size="6.8" fill="#fff" text-anchor="middle" class="lb2" textLength="7.7" lengthAdjust="spacingAndGlyphs">A2</text>
<line x1="535.4" y1="332.3" x2="535.4" y2="345" stroke="#a8a8a8" stroke-width="0.7"/>
<ellipse cx="534.4" cy="304.1" rx="12.2" ry="28.1" fill="#fff" stroke="#1a1a1a" stroke-width="0.6"/>
<ellipse cx="535.4" cy="303.6" rx="6.3" ry="16.6" fill="none" stroke="#1a1a1a" stroke-width="0.6"/>
<path d="M536.0 287.3 A5.3999999999999995 16.0 0 0 0 536.0 319.90000000000003" fill="none" stroke="#444" stroke-width="0.5"/>
<circle cx="535.6" cy="349.2" r="5.3" fill="#0a0a0a"/>
<text x="535.7" y="351.84999999999997" font-size="7.5" fill="#fff" text-anchor="middle" class="lb2">C</text>
<line x1="564.4" y1="310.3" x2="564.4" y2="323" stroke="#a8a8a8" stroke-width="0.7"/>
<path d="M553.6 297.85 L568.1 297.85 Q569.1 297.85 569.1 298.85 L569.5 299.45000000000005 L574.9 299.45000000000005 Q575.6999999999999 299.45000000000005 575.6999999999999 300.25000000000006 L575.6999999999999 307.95 Q575.6999999999999 308.75 574.9 308.75 L569.5 308.75 L569.1 309.35 Q569.1 310.35 568.1 310.35 L553.6 310.35 A2.7 6.25 0 0 1 553.6 297.85 Z" fill="#fff" stroke="#1a1a1a" stroke-width="0.55"/>
<path d="M553.6 297.85 A2.7 6.25 0 0 1 553.6 310.35" fill="none" stroke="#333" stroke-width="0.5"/>
<path d="M569.5 299.45000000000005 Q570.5 304.1 569.5 308.75" fill="none" stroke="#555" stroke-width="0.45"/>
<circle cx="564.4" cy="327.9" r="5.3" fill="#0a0a0a"/>
<text x="564.5" y="330.54999999999995" font-size="7.5" fill="#fff" text-anchor="middle" class="lb2">D</text>
<line x1="593.3" y1="310.4" x2="593.3" y2="323" stroke="#a8a8a8" stroke-width="0.7"/>
<path d="M583.4 298.09999999999997 L599.8 298.09999999999997 Q601.4 297.9 602.1999999999999 295.99999999999994 Q604.8 296.7 604.8 304.2 Q604.8 311.7 602.1999999999999 312.40000000000003 Q601.4 310.5 599.8 310.3 L583.4 310.3 A2.4 6.1 0 0 1 583.4 298.09999999999997 Z" fill="#fff" stroke="#1a1a1a" stroke-width="0.55"/>
<path d="M583.4 298.09999999999997 A2.4 6.1 0 0 1 583.4 310.3" fill="none" stroke="#333" stroke-width="0.5"/>
<line x1="585.6" y1="300.13" x2="602.1999999999999" y2="300.13" stroke="#444" stroke-width="0.45"/>
<line x1="585.6" y1="302.17" x2="602.1999999999999" y2="302.17" stroke="#444" stroke-width="0.45"/>
<line x1="585.6" y1="304.20" x2="602.1999999999999" y2="304.20" stroke="#444" stroke-width="0.45"/>
<line x1="585.6" y1="306.23" x2="602.1999999999999" y2="306.23" stroke="#444" stroke-width="0.45"/>
<line x1="585.6" y1="308.27" x2="602.1999999999999" y2="308.27" stroke="#444" stroke-width="0.45"/>
<path d="M602.1999999999999 295.99999999999994 Q600.4 304.2 602.1999999999999 312.40000000000003" fill="none" stroke="#444" stroke-width="0.45"/>
<circle cx="593.3" cy="327.9" r="5.3" fill="#0a0a0a"/>
<text x="593.4" y="330.54999999999995" font-size="7.5" fill="#fff" text-anchor="middle" class="lb2">G</text>
<line x1="613.5" y1="290.9" x2="613.5" y2="370.6" stroke="#7a7a7a" stroke-width="0.9"/>
<g fill="#0a0a0a">
<circle cx="585.2" cy="346.6" r="5.6"/>
<path d="M579.2 353.1 L591 353.1 Q593.2 353.1 593.8 355.2 L598 369.4 Q598.3 370.8 597.1 371.1 Q595.9 371.3 595.5 370.1 L591.6 358.4 L590.5 358.4 L590.5 396.8 Q590.5 398.2 589.2 398.2 L587.2 398.2 Q585.9 398.2 585.9 396.8 L585.7 374.6 L584.7 374.6 L584.6 396.8 Q584.6 398.2 583.3 398.2 L581.3 398.2 Q579.9 398.2 579.9 396.8 L579.7 359 L571.2 368.4 Q570.1 369.3 569.2 368.4 Q568.4 367.5 569.3 366.4 L576.6 354.6 Q577.6 353.1 579.2 353.1 Z"/>
</g>
<path d="M551.2 372.6 L553.9 372.6 L558 394.9 L566 394.9 L569.9 372.6 L572.6 372.6 L567.8 397.6 L556.2 397.6 Z" fill="#0a0a0a"/>
<g fill="none" stroke="#0a0a0a" stroke-width="1.0">
<path d="M559.9 382.6 L561.8 379.9 L563.8 382.4"/>
<path d="M565 384.4 L566 386.8 L563 387.2"/>
<path d="M560.6 387.2 L557.8 386.8 L558.8 384.2"/>
</g>
<path d="M562.9 381.2 l1.9 0.9 l-1.9 1.3 Z M564.2 388.3 l-1.7 -1.2 l0.3 2.4 Z M557.6 384.2 l2.1 0.1 l-1.5 1.7 Z" fill="#0a0a0a"/>
<g transform="rotate(14 558.1 351.4)"><ellipse cx="558.1" cy="351.4" rx="3.5" ry="7.0" fill="#fff" stroke="#b0b0b0" stroke-width="0.7"/><ellipse cx="558.3" cy="352.0" rx="1.9" ry="4.8" fill="#fff" stroke="#c8c8c8" stroke-width="0.6"/></g>
<g transform="translate(563.3 360.6) rotate(-22)"><rect x="-3.8" y="-1.9" width="7.6" height="3.8" rx="0.8" fill="#e4e4e4" stroke="#777" stroke-width="0.5"/><line x1="1.5999999999999996" y1="-1.9" x2="1.5999999999999996" y2="1.9" stroke="#888" stroke-width="0.4"/><ellipse cx="-3.5" cy="0" rx="0.9" ry="1.9" fill="#fff" stroke="#777" stroke-width="0.4"/></g>
<g transform="translate(556.4 363.4) rotate(27)"><rect x="-3.2" y="-1.8" width="6.4" height="3.6" rx="0.8" fill="#e4e4e4" stroke="#777" stroke-width="0.5"/><line x1="1.0" y1="-1.8" x2="1.0" y2="1.8" stroke="#888" stroke-width="0.4"/><ellipse cx="-2.9000000000000004" cy="0" rx="0.9" ry="1.8" fill="#fff" stroke="#777" stroke-width="0.4"/></g>
<g transform="translate(562.0 370.4) rotate(-27)"><rect x="-5.3" y="-2.0" width="10.6" height="4.0" rx="0.8" fill="#e4e4e4" stroke="#777" stroke-width="0.5"/><line x1="3.0999999999999996" y1="-2.0" x2="3.0999999999999996" y2="2.0" stroke="#888" stroke-width="0.4"/><ellipse cx="-5.0" cy="0" rx="0.9" ry="2.0" fill="#fff" stroke="#777" stroke-width="0.4"/></g>
<path d="M654.4 272.7 L663.3 287.5 L645.5 287.5 Z" fill="#d81b5b" stroke="#d81b5b" stroke-width="2.4" stroke-linejoin="round"/>
<rect x="653.3" y="278.2" width="2.3" height="6.0" fill="#fff"/><rect x="653.3" y="285.0" width="2.3" height="1.8" fill="#fff"/>
<text x="653.8" y="302.1" font-size="6.9" fill="#141414" text-anchor="middle" class="t" textLength="36.8" lengthAdjust="spacingAndGlyphs">ATTENTION</text>
<text x="654.6" y="318.3" font-size="6.5" fill="#141414" text-anchor="middle" class="t" textLength="52.6" lengthAdjust="spacingAndGlyphs">In order to avoid</text>
<text x="654.6" y="326.55" font-size="6.5" fill="#141414" text-anchor="middle" class="t" textLength="37" lengthAdjust="spacingAndGlyphs">the opening</text>
<text x="654.6" y="334.8" font-size="6.5" fill="#141414" text-anchor="middle" class="t" textLength="37.5" lengthAdjust="spacingAndGlyphs">of the spool</text>
<text x="654.6" y="343.05" font-size="6.5" fill="#141414" text-anchor="middle" class="t" textLength="47" lengthAdjust="spacingAndGlyphs">during the use,</text>
<text x="654.6" y="351.3" font-size="6.5" fill="#141414" text-anchor="middle" class="t" textLength="42" lengthAdjust="spacingAndGlyphs">please do not</text>
<text x="654.6" y="359.55" font-size="6.5" fill="#141414" text-anchor="middle" class="t" textLength="53.8" lengthAdjust="spacingAndGlyphs">remove any pieces</text>
<text x="654.6" y="367.8" font-size="6.5" fill="#141414" text-anchor="middle" class="t" textLength="40" lengthAdjust="spacingAndGlyphs">until filament</text>
<text x="654.6" y="376.05" font-size="6.5" fill="#141414" text-anchor="middle" class="t" textLength="33" lengthAdjust="spacingAndGlyphs">is finished.</text>
</svg>
</body></html>
